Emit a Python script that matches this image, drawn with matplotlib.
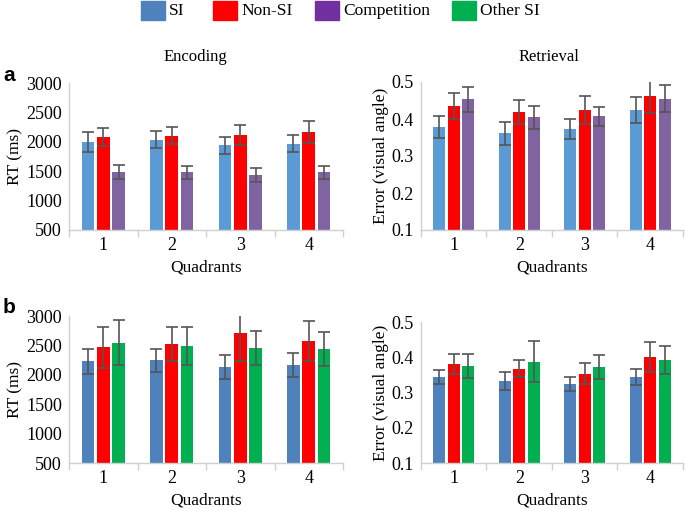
import matplotlib
matplotlib.use("Agg")
import matplotlib.pyplot as plt
import numpy as np
from matplotlib.patches import Rectangle

quadrants = ["1", "2", "3", "4"]

# Panel a: Encoding RT (ms)
enc_si = [2000, 2038, 1942, 1965]
enc_si_err = [170, 150, 147, 145]
enc_nonsi = [2084, 2106, 2118, 2163]
enc_nonsi_err = [150, 140, 175, 185]
enc_comp = [1484, 1478, 1433, 1478]
enc_comp_err = [113, 105, 118, 107]

# Panel a: Retrieval error (visual angle)
ret_si = [0.379, 0.361, 0.373, 0.424]
ret_si_err = [0.030, 0.030, 0.026, 0.036]
ret_nonsi = [0.435, 0.419, 0.424, 0.461]
ret_nonsi_err = [0.036, 0.033, 0.038, 0.046]
ret_comp = [0.453, 0.405, 0.407, 0.455]
ret_comp_err = [0.034, 0.031, 0.026, 0.036]

# Panel b: Encoding RT (ms)
b_enc_si = [2227, 2244, 2131, 2165]
b_enc_si_err = [207, 200, 205, 202]
b_enc_nonsi = [2466, 2523, 2716, 2574]
b_enc_nonsi_err = [352, 295, 483, 347]
b_enc_other = [2545, 2489, 2455, 2443]
b_enc_other_err = [380, 324, 287, 287]

# Panel b: Retrieval error (visual angle)
b_ret_si = [0.344, 0.333, 0.323, 0.343]
b_ret_si_err = [0.019, 0.025, 0.020, 0.023]
b_ret_nonsi = [0.380, 0.368, 0.353, 0.400]
b_ret_nonsi_err = [0.028, 0.024, 0.030, 0.042]
b_ret_other = [0.374, 0.387, 0.373, 0.393]
b_ret_other_err = [0.034, 0.058, 0.034, 0.040]

legend_labels = ["SI", "Non-SI", "Competition", "Other SI"]

SERIF = "Liberation Serif"
plt.rcParams["font.family"] = SERIF

fig = plt.figure(figsize=(6.85, 5.11), dpi=100)
W, H = 685, 511

def ax_at(x0, y0, x1, y1):
    return fig.add_axes([x0 / W, 1 - y1 / H, (x1 - x0) / W, (y1 - y0) / H])

TICK_FS = 13
LAB_FS = 12.5

def panel(ax, series, errs, colors, ylim, yticks, yticklabels, ylabel):
    x = np.arange(1, len(quadrants) + 1)
    offs = [-0.224, 0.0, 0.224]
    for vals, e, c, o in zip(series, errs, colors, offs):
        ax.bar(x + o, np.array(vals) - ylim[0], bottom=ylim[0], width=0.185,
               color=c, edgecolor="none", zorder=2)
        ax.errorbar(x + o, vals, yerr=e, fmt="none", ecolor="#555555",
                    elinewidth=1.2, capsize=4, capthick=1.2, zorder=3)
    ax.set_xlim(0.5, 4.5)
    ax.set_ylim(*ylim)
    ax.set_yticks(yticks)
    ax.set_yticklabels(yticklabels, fontsize=TICK_FS)
    ax.set_xticks(x)
    ax.set_xticklabels(quadrants, fontsize=TICK_FS)
    ax.set_xticks(np.arange(0.5, 4.6, 1.0), minor=True)
    ax.tick_params(axis="x", which="major", length=0, pad=5)
    ax.tick_params(axis="x", which="minor", length=5, color="#D0D0D0", width=1)
    ax.tick_params(axis="y", length=0, pad=5)
    for s in ["top", "right"]:
        ax.spines[s].set_visible(False)
    for s in ["left", "bottom"]:
        ax.spines[s].set_color("#D0D0D0")
        ax.spines[s].set_linewidth(1)
    ax.set_xlabel("Quadrants", fontsize=LAB_FS, labelpad=4)
    ax.set_ylabel(ylabel, fontsize=LAB_FS, labelpad=2)

blue_light = "#5B9BD5"
blue_dark = "#4F81BD"
red = "#FF0000"
purple = "#8064A2"
green = "#00B050"

rt_ticks = [500, 1000, 1500, 2000, 2500, 3000]
err_ticks = [0.1, 0.2, 0.3, 0.4, 0.5]
err_labels = ["0.1", "0.2", "0.3", "0.4", "0.5"]

ax1 = ax_at(69, 83, 343, 230)
panel(ax1, [enc_si, enc_nonsi, enc_comp], [enc_si_err, enc_nonsi_err, enc_comp_err],
      [blue_light, red, purple], (500, 3000), rt_ticks, [str(t) for t in rt_ticks], "RT (ms)")
ax2 = ax_at(421, 82, 683, 230)
panel(ax2, [ret_si, ret_nonsi, ret_comp], [ret_si_err, ret_nonsi_err, ret_comp_err],
      [blue_light, red, purple], (0.1, 0.5), err_ticks, err_labels, "Error (visual angle)")
ax3 = ax_at(69, 316, 343, 463)
panel(ax3, [b_enc_si, b_enc_nonsi, b_enc_other], [b_enc_si_err, b_enc_nonsi_err, b_enc_other_err],
      [blue_dark, red, green], (500, 3000), rt_ticks, [str(t) for t in rt_ticks], "RT (ms)")
ax4 = ax_at(421, 322, 683, 463)
panel(ax4, [b_ret_si, b_ret_nonsi, b_ret_other], [b_ret_si_err, b_ret_nonsi_err, b_ret_other_err],
      [blue_dark, red, green], (0.1, 0.5), err_ticks, err_labels, "Error (visual angle)")

fig.text(195 / W, 1 - 57 / H, "Encoding", ha="center", va="center", fontsize=12)
fig.text(549 / W, 1 - 57 / H, "Retrieval", ha="center", va="center", fontsize=12)
fig.text(3 / W, 1 - 75 / H, "a", ha="left", va="center", fontsize=15,
         fontweight="bold", family="Liberation Sans")
fig.text(3 / W, 1 - 307 / H, "b", ha="left", va="center", fontsize=15,
         fontweight="bold", family="Liberation Sans")

# Legend
leg_colors = [blue_dark, red, "#7030A0", green]
leg_patch_x = [141, 213, 315, 452]
for lbl, c, px in zip(legend_labels, leg_colors, leg_patch_x):
    fig.patches.append(Rectangle((px / W, 1 - 20 / H), 24 / W, 19 / H,
                                 transform=fig.transFigure, color=c))
    fig.text((px + 28) / W, 1 - 11 / H, lbl, ha="left", va="center", fontsize=12.5)

fig.savefig("out.png", dpi=100)
